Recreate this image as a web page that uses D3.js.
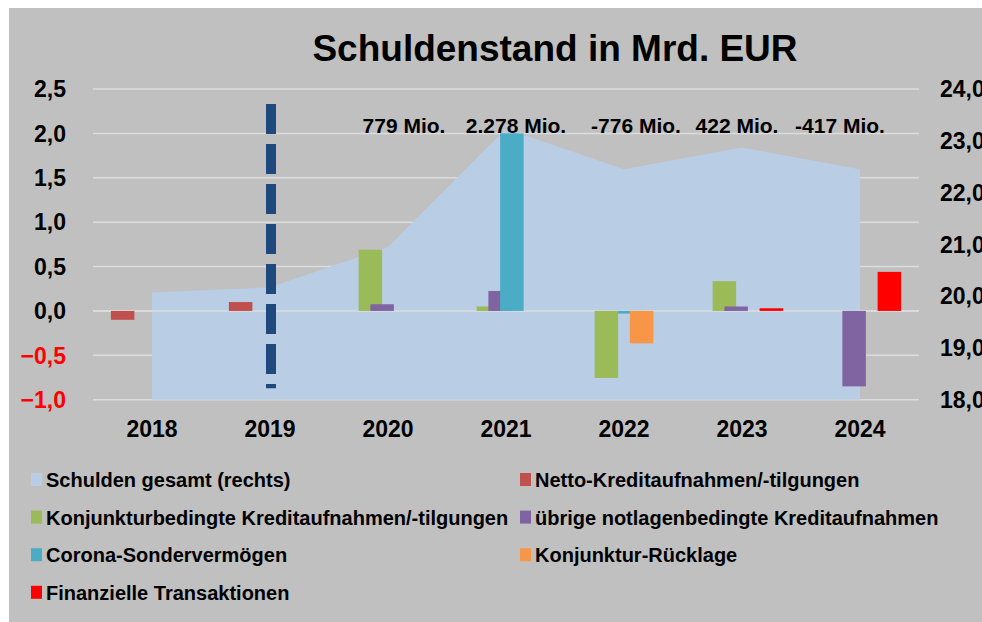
<!DOCTYPE html>
<html>
<head>
<meta charset="utf-8">
<script src="https://cdn.jsdelivr.net/npm/d3@7"></script>
<style>
  html, body { margin: 0; padding: 0; background: #ffffff; }
  svg { display: block; font-family: "Liberation Sans", Arial, sans-serif; font-weight: bold; }
</style>
</head>
<body>
<svg id="chart" width="982" height="622"></svg>
<script>
// ---------- data ----------
const years = ["2018", "2019", "2020", "2021", "2022", "2023", "2024"];
const debtTotal = [20.07, 20.17, 20.95, 23.23, 22.45, 22.87, 22.45];            // right axis
const nettoKredit = [-0.10, 0.10, null, null, null, null, null];
const konjunkturKredit = [null, null, 0.69, 0.05, -0.755, 0.335, null];
const uebrigeNotlage = [null, null, 0.075, 0.225, null, 0.05, -0.85];
const coronaSV = [null, null, null, 2.0, -0.03, null, null];
const konjunkturRuecklage = [null, null, null, null, -0.365, null, null];
const finanzTransaktionen = [null, null, null, null, null, 0.03, 0.44];
const leftTicks = [-1.0, -0.5, 0.0, 0.5, 1.0, 1.5, 2.0, 2.5];
const rightTicks = [18, 19, 20, 21, 22, 23, 24];
const changeYears = ["2020", "2021", "2022", "2023", "2024"];
const changeLabels = ["779 Mio.", "2.278 Mio.", "-776 Mio.", "422 Mio.", "-417 Mio."];
const markerYear = "2019";
const markerRange = [-0.87, 2.33];
const seriesNames = ["Netto-Kreditaufnahmen/-tilgungen", "Konjunkturbedingte Kreditaufnahmen/-tilgungen",
  "übrige notlagenbedingte Kreditaufnahmen", "Corona-Sondervermögen", "Konjunktur-Rücklage", "Finanzielle Transaktionen"];
const seriesValues = [nettoKredit, konjunkturKredit, uebrigeNotlage, coronaSV, konjunkturRuecklage, finanzTransaktionen];
const areaName = "Schulden gesamt (rechts)";

// ---------- styles / layout ----------
const seriesColors = ["#c0504d", "#9bbb59", "#8064a2", "#4bacc6", "#f79646", "#ff0000"];
const areaColor = "#b9cde5";
const labelDx = [16, 10, 12, -5, -20];

const svg = d3.select("#chart");
svg.append("rect").attr("x", 9).attr("y", 8).attr("width", 973).attr("height", 614).attr("fill", "#c0c0c0");

const plot = { left: 93, right: 919, top: 89, bottom: 399.7 };
const x = d3.scaleBand().domain(years).range([plot.left, plot.right]).padding(0);
const yL = d3.scaleLinear().domain([-1, 2.5]).range([plot.bottom, plot.top]);
const yR = d3.scaleLinear().domain([18, 24]).range([plot.bottom, plot.top]);
const cx = d => x(d) + x.bandwidth() / 2;
const fmt = d3.formatLocale({ decimal: ",", thousands: ".", grouping: [3], currency: ["", ""] }).format(".1f");

// gridlines
svg.append("g").selectAll("line").data(leftTicks).join("line")
  .attr("x1", plot.left).attr("x2", plot.right)
  .attr("y1", d => yL(d)).attr("y2", d => yL(d))
  .attr("stroke", "#dcdcdc").attr("stroke-width", 1.5);

// area
const area = d3.area().x((d, i) => cx(years[i])).y0(yR(18)).y1(d => yR(d));
svg.append("path").datum(debtTotal).attr("d", area).attr("fill", areaColor);

// zero line
svg.append("line").attr("x1", plot.left).attr("x2", plot.right)
  .attr("y1", yL(0)).attr("y2", yL(0)).attr("stroke", "#dcdcdc").attr("stroke-width", 1.5);

// bars
const barW = 23.5;
const groupHalf = barW / 2 * (seriesValues.length - 1) / 2 + barW / 2;
seriesValues.forEach((vals, si) => {
  const data = vals.map((v, i) => ({ year: years[i], v })).filter(d => d.v !== null);
  svg.append("g").selectAll("rect").data(data).join("rect")
    .attr("x", d => cx(d.year) - groupHalf + si * barW / 2)
    .attr("width", barW)
    .attr("y", d => yL(Math.max(0, d.v)))
    .attr("height", d => Math.abs(yL(d.v) - yL(0)))
    .attr("fill", seriesColors[si]);
});

// dashed marker
svg.append("line")
  .attr("x1", cx(markerYear) + 1).attr("x2", cx(markerYear) + 1)
  .attr("y1", yL(markerRange[1])).attr("y2", yL(markerRange[0]))
  .attr("stroke", "#1f497d").attr("stroke-width", 10).attr("stroke-dasharray", "30,10");

// change labels
svg.append("g").selectAll("text").data(changeLabels).join("text")
  .attr("x", (d, i) => cx(changeYears[i]) + labelDx[i])
  .attr("y", 133)
  .attr("text-anchor", "middle").attr("font-size", 21).attr("fill", "#000")
  .text(d => d);

// left axis labels
svg.append("g").selectAll("text").data(leftTicks).join("text")
  .attr("x", 66).attr("y", d => yL(d)).attr("dy", "0.36em")
  .attr("text-anchor", "end").attr("font-size", 23)
  .attr("fill", d => d < 0 ? "#ff0000" : "#000")
  .text(d => fmt(d));

// right axis labels (clipped at the right edge, as in the reference)
svg.append("g").selectAll("text").data(rightTicks).join("text")
  .attr("x", 940).attr("y", d => yR(d)).attr("dy", "0.36em")
  .attr("text-anchor", "start").attr("font-size", 23).attr("fill", "#000")
  .text(d => fmt(d));

// x labels
svg.append("g").selectAll("text").data(years).join("text")
  .attr("x", d => cx(d)).attr("y", 437)
  .attr("text-anchor", "middle").attr("font-size", 23).attr("fill", "#000")
  .text(d => d);

// title
svg.append("text").attr("x", 555).attr("y", 61).attr("text-anchor", "middle")
  .attr("font-size", 37).attr("fill", "#000").text("Schuldenstand in Mrd. EUR");

// legend
const legendItems = [{ name: areaName, color: areaColor }]
  .concat(seriesNames.map((n, i) => ({ name: n, color: seriesColors[i] })));
const legCols = [31, 520];
const legRow0 = 480, legRowStep = 37.6;
const lg = svg.append("g").selectAll("g").data(legendItems).join("g")
  .attr("transform", (d, i) => `translate(${legCols[i % 2]},${legRow0 + Math.floor(i / 2) * legRowStep})`);
lg.append("rect").attr("x", 0).attr("y", -7).attr("width", 11).attr("height", 13).attr("fill", d => d.color);
lg.append("text").attr("x", 15).attr("y", 0).attr("dy", "0.36em").attr("font-size", 20)
  .attr("fill", "#000").text(d => d.name);
</script>
</body>
</html>
